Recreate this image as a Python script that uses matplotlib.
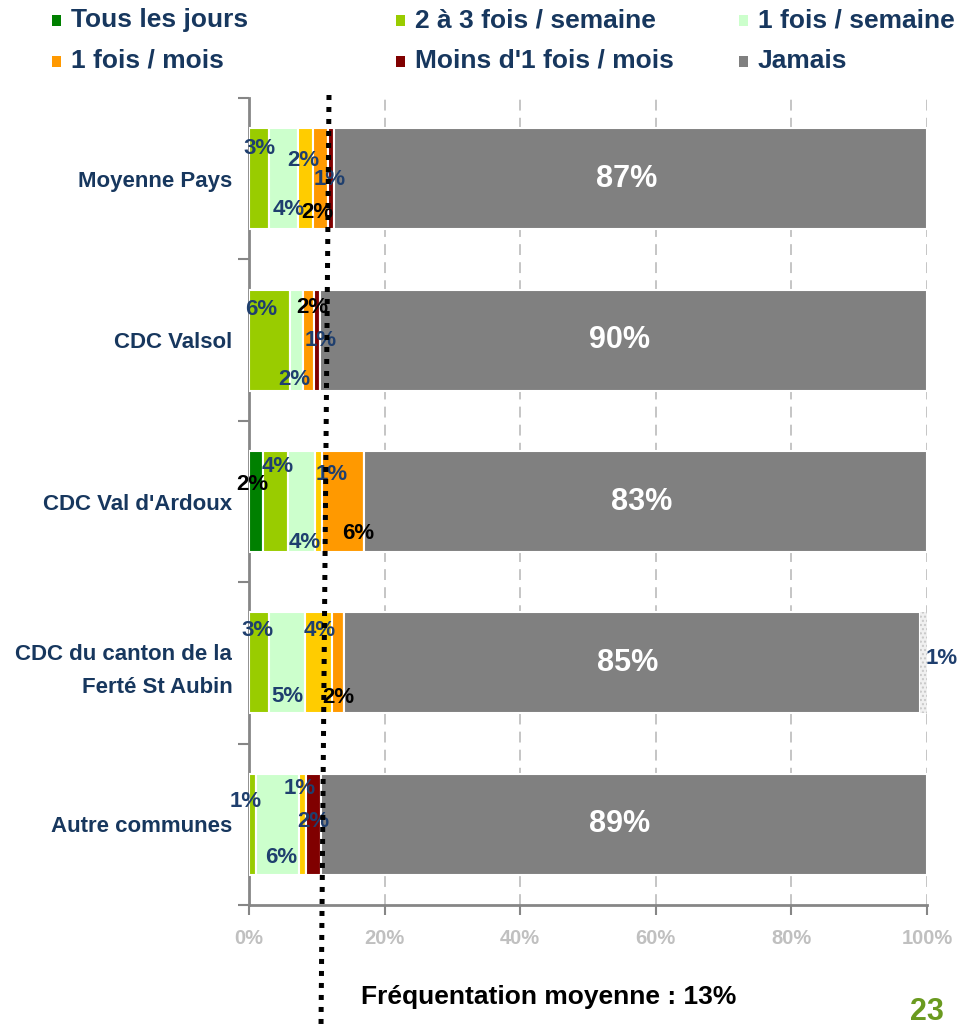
import matplotlib
matplotlib.use('Agg')
import matplotlib.pyplot as plt
from matplotlib.lines import Line2D
from matplotlib.patches import Rectangle
from matplotlib.ticker import FixedLocator
import numpy as np

plt.rcParams['font.family'] = ['Liberation Sans', 'DejaVu Sans']
plt.rcParams['font.weight'] = 'bold'
plt.rcParams['hatch.linewidth'] = 1.0

# ---------------- data ----------------
categories = ['Moyenne Pays', 'CDC Valsol', "CDC Val d'Ardoux",
              'CDC du canton de la\nFerté St Aubin', 'Autre communes']
series_names = ['Tous les jours', '2 à 3 fois / semaine', '1 fois / semaine',
                '2 à 3 fois / mois', '1 fois / mois', "Moins d'1 fois / mois",
                'Jamais', 'NSP']
tous_les_jours = [0.0, 0.0, 2.0, 0.0, 0.0]
deux_trois_semaine = [3.0, 6.1, 3.8, 3.0, 1.0]
une_semaine = [4.2, 1.8, 4.0, 5.2, 6.4]
deux_trois_mois = [2.2, 0.0, 1.0, 4.0, 1.0]
une_mois = [2.2, 1.7, 6.2, 1.8, 0.0]
moins_une_mois = [1.0, 0.8, 0.0, 0.0, 2.2]
jamais = [87.4, 89.6, 83.0, 85.0, 89.4]
nsp = [0.0, 0.0, 0.0, 1.0, 0.0]
series = [tous_les_jours, deux_trois_semaine, une_semaine, deux_trois_mois,
          une_mois, moins_une_mois, jamais, nsp]
x_ticks = [0, 20, 40, 60, 80, 100]
x_tick_labels = ['0%', '20%', '40%', '60%', '80%', '100%']
legend_order = [0, 1, 2, 4, 5, 6]

# ---------------- style ----------------
colors = ['#008000', '#99CC00', '#CCFFCC', '#FFCC00', '#FF9900', '#800000',
          '#808080', '#F0F0F0']
NAVY = '#17375E'
BLUE = '#1F3F6E'
W, H = 962, 1028

# label placement (category, segment, dx px, dy px (down), color)
label_specs = [
    (0, 1, 0, -30, BLUE), (0, 2, 5, 31, BLUE), (0, 3, -2, -18, BLUE),
    (0, 4, -3, 34, 'black'), (0, 5, -1, 1, BLUE),
    (1, 1, -8, -31, BLUE), (1, 2, -2, 39, BLUE), (1, 4, 4, -33, 'black'),
    (1, 5, 4, 0, BLUE),
    (2, 0, -3, -17, 'black'), (2, 1, 2, -35, BLUE), (2, 2, 3, 41, BLUE),
    (2, 3, 13, -27, BLUE), (2, 4, 15, 32, 'black'),
    (3, 1, -2, -32, BLUE), (3, 2, 0, 34, BLUE), (3, 3, 2, -32, BLUE),
    (3, 4, 0, 35, 'black'), (3, 7, 18, -4, BLUE),
    (4, 1, -7, -23, BLUE), (4, 2, 4, 33, BLUE), (4, 3, -3, -36, BLUE),
    (4, 5, 0, -3, BLUE),
]

fig = plt.figure(figsize=(W / 100, H / 100), dpi=100)
fig.patch.set_facecolor('white')
ax = fig.add_axes([249 / W, 1 - 905 / H, 678 / W, 807 / H])

ypos = np.arange(len(categories))
lefts = []
left = np.zeros(len(categories))
for i, (vals, col) in enumerate(zip(series, colors)):
    vals = np.array(vals, dtype=float)
    lefts.append(left.copy())
    if i == 7:
        ax.barh(ypos, vals, left=left, height=0.626, facecolor=col,
                edgecolor='#C8C8C8', hatch='....', linewidth=0, zorder=3)
    else:
        ax.barh(ypos, vals, left=left, height=0.626, color=col,
                edgecolor='white', linewidth=1.5, zorder=3)
    left += vals

ax.set_xlim(0, 100)
ax.set_ylim(len(categories) - 0.5, -0.5)

# gridlines
ax.set_axisbelow(True)
ax.xaxis.grid(True, linestyle=(0, (6, 4)), color='#C0C0C0', linewidth=1.3)
ax.yaxis.grid(False)

for s in ['top', 'right']:
    ax.spines[s].set_visible(False)
for s in ['left', 'bottom']:
    ax.spines[s].set_color('#868686')
    ax.spines[s].set_linewidth(2)

ax.set_xticks(x_ticks)
ax.set_xticklabels(x_tick_labels)
ax.tick_params(axis='x', direction='out', length=7, width=1.5, color='#868686',
               labelcolor='#C0C0C0', labelsize=14.5, pad=10)
ax.set_yticks(ypos)
ax.set_yticklabels(categories, color=NAVY, fontsize=16, linespacing=1.75)
ax.tick_params(axis='y', which='major', length=0, pad=12)
ax.yaxis.set_minor_locator(FixedLocator(np.arange(-0.5, len(categories), 1)))
ax.tick_params(axis='y', which='minor', direction='out', length=8, width=1.5,
               color='#868686')
for t in ax.get_xticklabels() + ax.get_yticklabels():
    t.set_fontweight('bold')

# segment labels
for (c, s, dx, dy, col) in label_specs:
    v = series[s][c]
    xc = lefts[s][c] + v / 2
    ax.annotate(f'{v:.0f}%', (xc, c), xytext=(dx, -dy),
                textcoords='offset pixels', ha='center', va='center',
                fontsize=16, fontweight='bold', color=col, zorder=6,
                annotation_clip=False)
# Jamais labels
for c in range(len(categories)):
    v = series[6][c]
    l0 = lefts[6][c]
    xc = (l0 + min(l0 + v, 100)) / 2
    ax.text(xc - 0.6, c, f'{v:.0f}%', ha='center', va='center', fontsize=22,
            fontweight='bold', color='white', zorder=6)

# dotted average line
fig.add_artist(Line2D([329 / W, 321 / W], [1 - 95 / H, 0], transform=fig.transFigure,
                      color='black', linewidth=3.6, linestyle=(0, (1, 1.4)),
                      dash_capstyle='butt', zorder=5))

# legend (manual)
leg_cols = [52, 396, 739]
leg_rows = [20, 61]
for k, si in enumerate(legend_order):
    cx = leg_cols[k % 3]
    cy = leg_rows[k // 3]
    fig.add_artist(Rectangle((cx / W, 1 - (cy + 6) / H), 9 / W, 11 / H,
                             transform=fig.transFigure, facecolor=colors[si],
                             edgecolor='none'))
    fig.text((cx + 19) / W, 1 - cy / H, series_names[si], ha='left',
             va='center', fontsize=19, fontweight='bold', color=NAVY)

fig.text(549 / W, 1 - 997 / H, 'Fréquentation moyenne : 13%', ha='center',
         va='center', fontsize=19, fontweight='bold', color='black')
fig.text(927 / W, 1 - 1012 / H, '23', ha='center', va='center', fontsize=22,
         fontweight='bold', color='#6A9A1F')

fig.savefig('out.png', dpi=100, facecolor='white')
